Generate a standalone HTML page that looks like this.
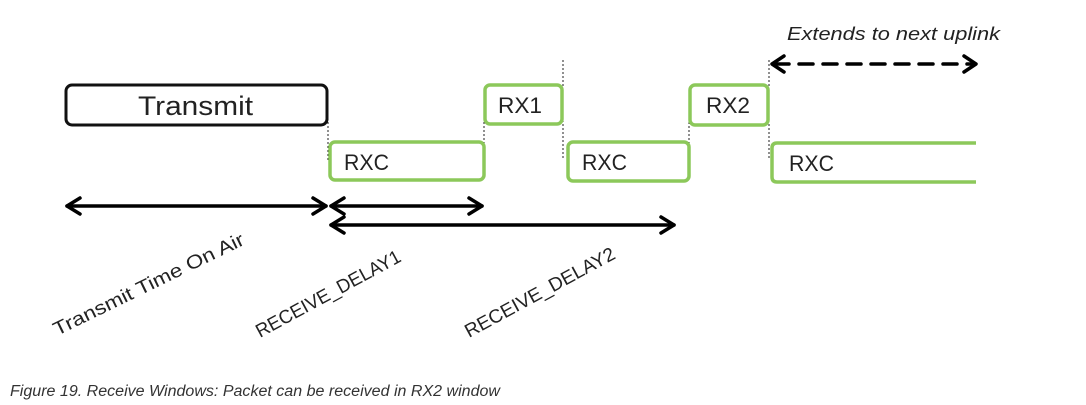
<!DOCTYPE html>
<html><head><style>
html,body{margin:0;padding:0;background:#fff;width:1086px;height:405px;overflow:hidden}
</style></head><body>
<svg width="1086" height="405" xmlns="http://www.w3.org/2000/svg" font-family="Liberation Sans, sans-serif">
<g fill="none" stroke="#222" stroke-width="1" stroke-dasharray="2,2">
<line x1="328" y1="110" x2="328" y2="160"/>
<line x1="484" y1="110" x2="484" y2="145"/>
<line x1="563" y1="60" x2="563" y2="160"/>
<line x1="689" y1="110" x2="689" y2="145"/>
<line x1="769" y1="60" x2="769" y2="160"/>
</g>
<rect x="66" y="85" width="261" height="40" rx="6" fill="none" stroke="#111" stroke-width="3"/>
<text x="138" y="115" font-size="27" textLength="115" lengthAdjust="spacingAndGlyphs" fill="#222">Transmit</text>
<g fill="none" stroke="#8cc85a" stroke-width="3.5">
<rect x="330" y="142" width="154" height="38" rx="5"/>
<rect x="485" y="85" width="77" height="39" rx="5"/>
<rect x="568" y="142" width="121" height="39" rx="5"/>
<rect x="690" y="85" width="78" height="40" rx="5"/>
<path d="M976 143 H777 Q772 143 772 148 V177 Q772 182 777 182 H976"/>
</g>
<g font-size="22" fill="#222">
<text x="344" y="170" textLength="45" lengthAdjust="spacingAndGlyphs">RXC</text>
<text x="498" y="113" textLength="44" lengthAdjust="spacingAndGlyphs">RX1</text>
<text x="582" y="170" textLength="45" lengthAdjust="spacingAndGlyphs">RXC</text>
<text x="706" y="113" textLength="44" lengthAdjust="spacingAndGlyphs">RX2</text>
<text x="789" y="171" textLength="45" lengthAdjust="spacingAndGlyphs">RXC</text>
</g>
<text x="787" y="40" font-size="18" font-style="italic" fill="#222" textLength="213" lengthAdjust="spacingAndGlyphs">Extends to next uplink</text>
<g stroke="#000" stroke-width="3.5" fill="none" stroke-linecap="round" stroke-linejoin="round">
<line x1="775" y1="64" x2="975" y2="64" stroke-dasharray="14,10"/>
<polyline points="784,56 772,64 784,72"/>
<polyline points="964,56 976,64 964,72"/>
<line x1="67" y1="206" x2="326" y2="206"/>
<polyline points="80,198 67,206 80,214"/>
<polyline points="313,198 326,206 313,214"/>
<line x1="331" y1="206" x2="482" y2="206"/>
<polyline points="344,198 331,206 344,214"/>
<polyline points="469,198 482,206 469,214"/>
<line x1="331" y1="225" x2="674" y2="225"/>
<polyline points="344,217 331,225 344,233"/>
<polyline points="661,217 674,225 661,233"/>
</g>
<g font-size="19" fill="#222">
<text transform="translate(57,336) rotate(-26)" textLength="210" lengthAdjust="spacingAndGlyphs">Transmit Time On Air</text>
<text transform="translate(260,338) rotate(-28.5)" textLength="162" lengthAdjust="spacingAndGlyphs">RECEIVE_DELAY1</text>
<text transform="translate(469,338) rotate(-28.5)" textLength="168" lengthAdjust="spacingAndGlyphs">RECEIVE_DELAY2</text>
</g>
<text x="10" y="396" font-size="15.5" font-style="italic" fill="#333" textLength="490" lengthAdjust="spacingAndGlyphs">Figure 19. Receive Windows: Packet can be received in RX2 window</text>
</svg>
</body></html>
